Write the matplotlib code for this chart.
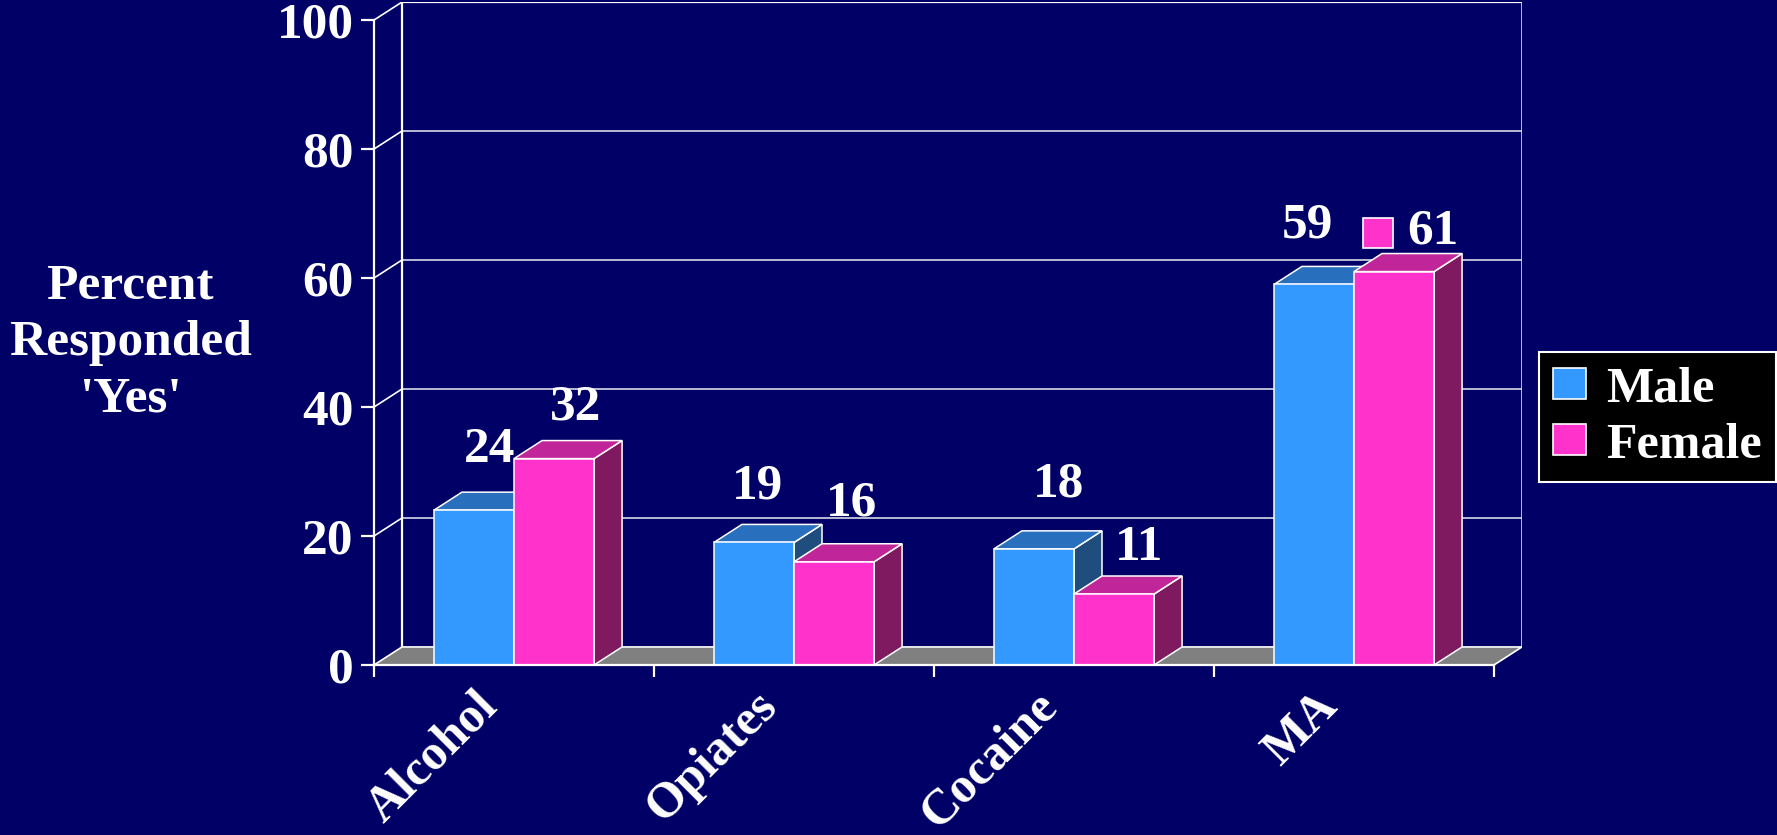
import matplotlib
matplotlib.use("Agg")
import matplotlib.pyplot as plt
from matplotlib.patches import Rectangle, Polygon
from matplotlib.transforms import offset_copy

# data
categories = ["Alcohol", "Opiates", "Cocaine", "MA"]
series = ["Male", "Female"]
male = [24, 19, 18, 59]
female = [32, 16, 11, 61]
yticks = [0, 20, 40, 60, 80, 100]

# colours: front, top, side
BG = "#000066"
MALE_C = ("#3399FF", "#2870BE", "#1F4E7E")
FEMALE_C = ("#FF33CC", "#C0269A", "#801A60")
FLOOR = "#808080"
GRID = "#D8D8E8"

# hand-placed value label nudges (pixels, relative to bar top centre)
nudge_male = [(2, 60), (-10, 56), (11, 64), (-21, 59)]
nudge_female = [(8, 51), (3, 58), (11, 46), (25, 40)]

plt.rcParams["font.family"] = ["Liberation Serif", "DejaVu Serif"]
plt.rcParams["font.weight"] = "bold"
FS = 37

W, H = 1777, 835
fig = plt.figure(figsize=(W / 100, H / 100), dpi=100, facecolor=BG)

# 3D depth in data units
DX = 0.1
DY = 2.8
ax = fig.add_axes([374 / W, (H - 665) / H, 1148 / W, 663 / H])
ax.set_xlim(0, 4 + DX)
ax.set_ylim(0, 100 + DY)
ax.set_facecolor(BG)
ax.patch.set_alpha(0)

# back wall + side wall gridlines
for v in yticks[1:]:
    ax.plot([DX, 4 + DX], [v + DY, v + DY], color=GRID if v < 100 else "white",
            lw=1.2 if v < 100 else 1.6, zorder=1)
    ax.plot([0, DX], [v, v + DY], color="white", lw=1.2, zorder=1)
ax.plot([DX, DX], [DY, 100 + DY], color="white", lw=1.6, zorder=1)
ax.plot([4 + DX, 4 + DX], [DY, 100 + DY], color=GRID, lw=1.2, zorder=1)

# floor
ax.add_patch(Polygon([(0, 0), (4, 0), (4 + DX, DY), (DX, DY)], closed=True,
                     facecolor=FLOOR, edgecolor="white", lw=1.2, zorder=2))

w = 80 / 279.75


def bar3d(x0, v, cols):
    front, top, side = cols
    ax.add_patch(Polygon([(x0 + w, 0), (x0 + w + DX, DY), (x0 + w + DX, v + DY), (x0 + w, v)],
                         facecolor=side, edgecolor="white", lw=1.1, zorder=3))
    ax.add_patch(Polygon([(x0, v), (x0 + w, v), (x0 + w + DX, v + DY), (x0 + DX, v + DY)],
                         facecolor=top, edgecolor="white", lw=1.1, zorder=3))
    ax.add_patch(Rectangle((x0, 0), w, v, facecolor=front, edgecolor="white",
                           lw=1.1, zorder=3))


for i in range(len(categories)):
    xm = i + 0.5 - w
    xf = i + 0.5
    bar3d(xm, male[i], MALE_C)
    bar3d(xf, female[i], FEMALE_C)
    ax.annotate(str(male[i]), xy=(xm + w / 2 + DX / 2, male[i]), xytext=nudge_male[i],
                textcoords="offset pixels", ha="center", va="center",
                color="white", fontsize=FS, zorder=5, annotation_clip=False)
    ax.annotate(str(female[i]), xy=(xf + w / 2 + DX / 2, female[i]), xytext=nudge_female[i],
                textcoords="offset pixels", ha="center", va="center",
                color="white", fontsize=FS, zorder=5, annotation_clip=False)

# legend key shown beside the last female label
last = len(categories) - 1
key_tr = offset_copy(ax.transData, fig=fig, x=-30, y=39, units="dots")
ax.plot([last + 0.5 + w / 2 + DX / 2], [female[last]], marker="s", markersize=22,
        markerfacecolor=FEMALE_C[0], markeredgecolor="white", markeredgewidth=1.2,
        transform=key_tr, clip_on=False, zorder=5)

# axes
for s in ["top", "right"]:
    ax.spines[s].set_visible(False)
ax.spines["left"].set_bounds(0, 100)
ax.spines["bottom"].set_bounds(0, 4)
for s in ["left", "bottom"]:
    ax.spines[s].set_color("white")
    ax.spines[s].set_linewidth(1.6)
    ax.spines[s].set_zorder(4)
ax.set_yticks(yticks)
ax.set_yticklabels([str(t) for t in yticks])
ax.set_xticks(range(len(categories) + 1))
ax.set_xticklabels([])
ax.tick_params(axis="y", colors="white", direction="out", length=9.5, width=1.6,
               labelsize=FS, pad=5)
ax.tick_params(axis="x", colors="white", direction="out", length=8.5, width=1.6)

for i, c in enumerate(categories):
    ax.annotate(c, xy=(i + 0.5, 0), xytext=(-40, -18), textcoords="offset pixels",
                rotation=45, rotation_mode="anchor", ha="right", va="top",
                color="white", fontsize=FS - 1, annotation_clip=False)

fig.text(130 / W, 1 - 343 / H, "Percent\nResponded\n'Yes'", ha="center", va="center",
         multialignment="center", color="white", fontsize=FS, linespacing=1.3)

handles = [Rectangle((0, 0), 1, 1, facecolor=MALE_C[0], edgecolor="white", lw=1.2),
           Rectangle((0, 0), 1, 1, facecolor=FEMALE_C[0], edgecolor="white", lw=1.2)]
leg = fig.legend(handles, series, loc="upper right", bbox_to_anchor=(1776 / W, 1 - 352 / H),
                 fontsize=FS - 1, frameon=True, fancybox=False, facecolor="black",
                 edgecolor="white", framealpha=1, handlelength=0.66, handleheight=0.6,
                 handletextpad=0.4, labelspacing=0.2, borderpad=0.28, borderaxespad=0)
leg.get_frame().set_linewidth(1.5)
for t in leg.get_texts():
    t.set_color("white")

fig.savefig("out.png", dpi=100, facecolor=BG)
